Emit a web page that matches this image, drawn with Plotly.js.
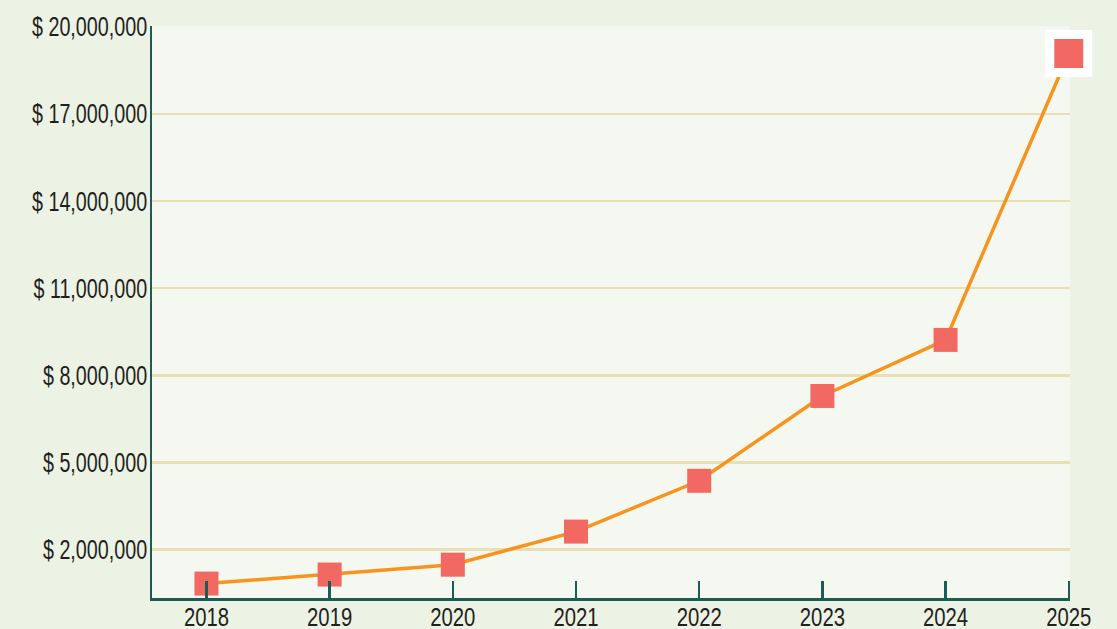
<!DOCTYPE html>
<html>
<head>
<meta charset="utf-8">
<script src="https://cdn.plot.ly/plotly-3.0.1.min.js"></script>
<style>
html,body{margin:0;padding:0;background:#ecf2e4;}
#chart{width:1117px;height:629px;}
</style>
</head>
<body>
<div id="chart"></div>
<script>
const years = [2018, 2019, 2020, 2021, 2022, 2023, 2024, 2025];
const values = [830000, 1140000, 1480000, 2620000, 4370000, 7290000, 9220000, 19080000];
const yTickVals = [2000000, 5000000, 8000000, 11000000, 14000000, 17000000, 20000000];
const yTickText = ["$ 2,000,000", "$ 5,000,000", "$ 8,000,000", "$ 11,000,000", "$ 14,000,000", "$ 17,000,000", "$ 20,000,000"];
const xTickText = ["2018", "2019", "2020", "2021", "2022", "2023", "2024", "2025"];

const n = years.length;
const markerSizes = years.map((y, i) => i === n - 1 ? 38 : 24);
const markerLineWidths = years.map((y, i) => i === n - 1 ? 9 : 0);

const trace = {
  x: years,
  y: values,
  type: "scatter",
  mode: "lines+markers",
  cliponaxis: false,
  line: {color: "#f7941d", width: 3.5},
  marker: {
    symbol: "square",
    size: markerSizes,
    color: "#f26964",
    opacity: 1,
    line: {color: "#ffffff", width: markerLineWidths}
  },
  hoverinfo: "skip"
};

const fontFam = "'Liberation Sans', Arial, sans-serif";

const layout = {
  width: 1117,
  height: 629,
  paper_bgcolor: "#ecf2e4",
  plot_bgcolor: "#f5f8f0",
  margin: {l: 152, r: 47, t: 26, b: 31, pad: 0},
  showlegend: false,
  font: {family: fontFam, size: 27, color: "#231f20"},
  xaxis: {
    range: [2017.558, 2025.01],
    tickvals: years,
    ticktext: xTickText,
    showgrid: false,
    zeroline: false,
    showline: true,
    linecolor: "#1b5c57",
    linewidth: 2.5,
    ticks: "inside",
    ticklen: 17,
    tickwidth: 2.5,
    tickcolor: "#1b5c57",
    ticklabelstandoff: -6,
    tickfont: {family: fontFam, size: 26, color: "#231f20"}
  },
  yaxis: {
    range: [333000, 20030000],
    tickvals: yTickVals,
    ticktext: yTickText,
    showgrid: true,
    gridcolor: "#e8dfb3",
    gridwidth: 2.5,
    zeroline: false,
    showline: true,
    linecolor: "#1b5c57",
    linewidth: 2.5,
    ticks: "",
    ticklabelstandoff: -3,
    tickfont: {family: fontFam, size: 27, color: "#231f20"}
  }
};

function condense() {
  document.querySelectorAll("#chart .ytick text").forEach(t => {
    const len = t.getComputedTextLength();
    t.setAttribute("textLength", (len * 0.73).toFixed(2));
    t.setAttribute("lengthAdjust", "spacingAndGlyphs");
  });
  document.querySelectorAll("#chart .xtick text").forEach(t => {
    const len = t.getComputedTextLength();
    t.setAttribute("textLength", (len * 0.78).toFixed(2));
    t.setAttribute("lengthAdjust", "spacingAndGlyphs");
  });
}

Plotly.newPlot("chart", [trace], layout, {displayModeBar: false, staticPlot: true}).then(condense);
</script>
</body>
</html>
